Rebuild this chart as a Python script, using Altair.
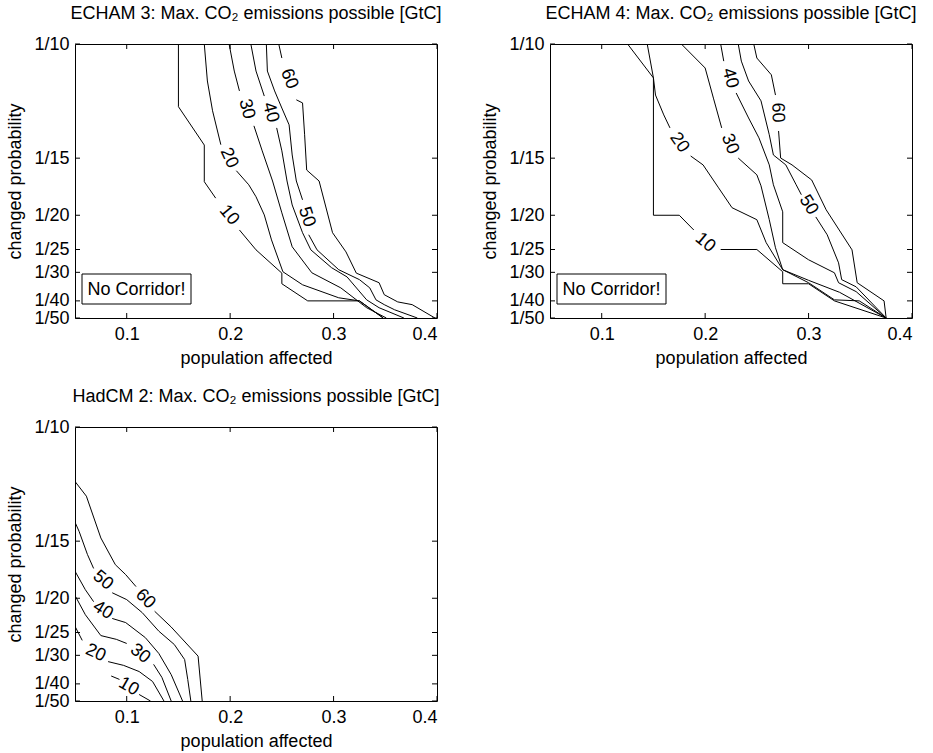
import altair as alt
import pandas as pd

FONT = "Liberation Sans"

X_TICKS = [0.1, 0.2, 0.3, 0.4]
Y_TICKS = [1/10, 1/15, 1/20, 1/25, 1/30, 1/40, 1/50]

TITLES = [
    "ECHAM 3: Max. CO\u2082 emissions possible [GtC]",
    "ECHAM 4: Max. CO\u2082 emissions possible [GtC]",
    "HadCM 2: Max. CO\u2082 emissions possible [GtC]",
]

# contour polylines: level -> list of segments (gaps are where labels sit)
ECHAM3_LINES = {
    10: [[(0.150, 0.1), (0.150, 0.0817), (0.175, 0.0705), (0.175, 0.0598), (0.186, 0.055)],
         [(0.209, 0.0457), (0.225, 0.0399), (0.250, 0.0331), (0.250, 0.030), (0.275, 0.025),
          (0.325, 0.025), (0.348, 0.02)]],
    20: [[(0.175, 0.1), (0.178, 0.0892), (0.183, 0.0805), (0.191, 0.0706)],
         [(0.206, 0.063), (0.218, 0.0589), (0.225, 0.0554), (0.233, 0.0501), (0.240, 0.0428),
          (0.251, 0.0335), (0.270, 0.0297), (0.305, 0.0259), (0.325, 0.025), (0.348, 0.02)]],
    30: [[(0.199, 0.1), (0.204, 0.0921), (0.209, 0.0863)],
         [(0.223, 0.0761), (0.231, 0.0688), (0.241, 0.060), (0.250, 0.0507), (0.260, 0.0408),
          (0.279, 0.0332), (0.307, 0.0288), (0.332, 0.023), (0.351, 0.02)]],
    40: [[(0.220, 0.1), (0.225, 0.0921), (0.233, 0.0848)],
         [(0.245, 0.0755), (0.250, 0.0688), (0.255, 0.060), (0.260, 0.053), (0.270, 0.0449),
          (0.278, 0.0399), (0.298, 0.0347), (0.313, 0.032), (0.332, 0.0253), (0.344, 0.023),
          (0.368, 0.02)]],
    50: [[(0.235, 0.1), (0.236, 0.0921), (0.243, 0.0863), (0.250, 0.0813), (0.257, 0.0764),
          (0.260, 0.0676), (0.264, 0.060), (0.270, 0.0545)],
         [(0.276, 0.0443), (0.284, 0.0399), (0.305, 0.0341), (0.325, 0.0312), (0.335, 0.0288),
          (0.341, 0.0253), (0.349, 0.0239), (0.359, 0.0224), (0.381, 0.02)]],
    60: [[(0.247, 0.1), (0.250, 0.0959)],
         [(0.264, 0.0837), (0.270, 0.0828), (0.272, 0.0735), (0.274, 0.0632), (0.286, 0.060),
          (0.299, 0.0449), (0.312, 0.0393), (0.322, 0.0331), (0.344, 0.0303), (0.349, 0.0268),
          (0.362, 0.0247), (0.376, 0.0239), (0.398, 0.02)]],
}
ECHAM3_LABELS = [("10", 0.199, 0.0500, 50), ("20", 0.199, 0.0667, 65), ("30", 0.216, 0.0810, 75),
                 ("40", 0.239, 0.0800, 75), ("50", 0.274, 0.0495, 72), ("60", 0.257, 0.0898, 68)]

ECHAM4_LINES = {
    10: [[(0.125, 0.1), (0.150, 0.0901), (0.150, 0.050), (0.175, 0.050), (0.189, 0.0457)],
         [(0.215, 0.040), (0.250, 0.040), (0.275, 0.0335), (0.275, 0.030), (0.300, 0.030),
          (0.325, 0.025), (0.375, 0.02)]],
    20: [[(0.144, 0.1), (0.150, 0.0901), (0.152, 0.0851), (0.160, 0.0793), (0.166, 0.0755)],
         [(0.186, 0.0673), (0.198, 0.0647), (0.213, 0.058), (0.226, 0.0522), (0.250, 0.0487),
          (0.259, 0.042), (0.275, 0.0341), (0.300, 0.0303), (0.325, 0.0253), (0.349, 0.025),
          (0.375, 0.02)]],
    30: [[(0.177, 0.1), (0.200, 0.093), (0.208, 0.0842), (0.216, 0.0755)],
         [(0.232, 0.0667), (0.250, 0.0618), (0.254, 0.0586), (0.262, 0.0487), (0.268, 0.0405),
          (0.275, 0.0341), (0.300, 0.031), (0.330, 0.0275), (0.375, 0.02)]],
    40: [[(0.215, 0.1), (0.218, 0.095)],
         [(0.230, 0.0857), (0.242, 0.0784), (0.252, 0.0726), (0.262, 0.0647), (0.266, 0.0589),
          (0.275, 0.051), (0.275, 0.042), (0.300, 0.037), (0.325, 0.0332), (0.329, 0.0303),
          (0.346, 0.0277), (0.375, 0.02)]],
    50: [[(0.232, 0.1), (0.235, 0.095), (0.242, 0.0892), (0.254, 0.0834), (0.262, 0.0735),
          (0.266, 0.0676), (0.278, 0.0647), (0.288, 0.0589), (0.293, 0.056)],
         [(0.307, 0.0495), (0.318, 0.0443), (0.329, 0.0361), (0.332, 0.0312), (0.346, 0.0291),
          (0.375, 0.02)]],
    60: [[(0.247, 0.1), (0.250, 0.0959), (0.264, 0.091), (0.268, 0.0851)],
         [(0.271, 0.0746), (0.273, 0.0667), (0.284, 0.0647), (0.303, 0.0603), (0.317, 0.0516),
          (0.342, 0.0399), (0.347, 0.0303), (0.373, 0.025), (0.375, 0.02)]],
}
ECHAM4_LABELS = [("10", 0.200, 0.0420, 40), ("20", 0.175, 0.0712, 55), ("30", 0.224, 0.0708, 68),
                 ("40", 0.224, 0.0900, 75), ("50", 0.300, 0.0530, 58), ("60", 0.270, 0.0800, 88)]

HADCM2_LINES = {
    10: [[(0.085, 0.0273), (0.093, 0.0263)],
         [(0.112, 0.0219), (0.123, 0.02)]],
    20: [[(0.050, 0.0418), (0.057, 0.0377)],
         [(0.082, 0.0315), (0.097, 0.0304), (0.112, 0.0286), (0.125, 0.0257), (0.136, 0.02)]],
    30: [[(0.050, 0.0508), (0.060, 0.0452), (0.075, 0.0391), (0.090, 0.038), (0.100, 0.0368)],
         [(0.126, 0.0307), (0.134, 0.0269), (0.143, 0.02)]],
    40: [[(0.050, 0.0579), (0.060, 0.0525), (0.068, 0.049)],
         [(0.086, 0.0441), (0.099, 0.0429), (0.118, 0.0385), (0.131, 0.0339), (0.143, 0.0277),
          (0.154, 0.02)]],
    50: [[(0.050, 0.0722), (0.054, 0.0695), (0.062, 0.0628), (0.068, 0.0587)],
         [(0.086, 0.0516), (0.100, 0.0496), (0.115, 0.0458), (0.131, 0.0404), (0.146, 0.0365),
          (0.156, 0.0321), (0.159, 0.0263), (0.162, 0.02)]],
    60: [[(0.050, 0.0841), (0.061, 0.0798), (0.075, 0.0676), (0.089, 0.0598), (0.099, 0.0569),
          (0.109, 0.0534)],
         [(0.127, 0.0462), (0.143, 0.0416), (0.169, 0.0331), (0.173, 0.02)]],
}
HADCM2_LABELS = [("10", 0.102, 0.0242, 30), ("20", 0.070, 0.0340, 25), ("30", 0.113, 0.0338, 38),
                 ("40", 0.077, 0.0465, 32), ("50", 0.077, 0.0552, 40), ("60", 0.118, 0.0498, 45)]

W, H = 362, 274
TICK = 5

xscale = alt.Scale(domain=[0.05, 0.4], nice=False, zero=False)
yscale = alt.Scale(domain=[0.02, 0.1], nice=False, zero=False)
xaxis = alt.Axis(values=X_TICKS, title="population affected", format=".1f",
                 labelPadding=7, titlePadding=6)
yaxis = alt.Axis(values=Y_TICKS, title="changed probability",
                 labelExpr="'1/' + format(1/datum.value, '.0f')",
                 labelPadding=6, titlePadding=9, labelOverlap=False)


def lines_frame(lines):
    rows = []
    for level, segs in lines.items():
        for si, seg in enumerate(segs):
            for i, (x, y) in enumerate(seg):
                rows.append({"level": level, "seg": f"{level}-{si}", "i": i, "x": x, "y": y})
    return pd.DataFrame(rows)


def panel(title, lines, labels, corridor):
    X = alt.X("x:Q", scale=xscale, axis=xaxis)
    Y = alt.Y("y:Q", scale=yscale, axis=yaxis)
    curves = alt.Chart(lines_frame(lines)).mark_line(
        color="black", strokeWidth=1, clip=True
    ).encode(x=X, y=Y, detail="seg:N", order="i:Q")

    lab_df = pd.DataFrame(labels, columns=["label", "x", "y", "angle"])
    texts = alt.Chart(lab_df).mark_text(
        font=FONT, fontSize=18, color="black", align="center", baseline="middle"
    ).encode(x=X, y=Y, text="label:N", angle=alt.Angle("angle:Q", scale=None))

    xt = pd.DataFrame({"x": X_TICKS})
    yt = pd.DataFrame({"y": Y_TICKS})
    tb = alt.Chart(xt).mark_rule(color="black", strokeWidth=1).encode(
        x=X, y=alt.value(H), y2=alt.value(H - TICK))
    tt = alt.Chart(xt).mark_rule(color="black", strokeWidth=1).encode(
        x=X, y=alt.value(0), y2=alt.value(TICK))
    tl = alt.Chart(yt).mark_rule(color="black", strokeWidth=1).encode(
        y=Y, x=alt.value(0), x2=alt.value(TICK))
    tr = alt.Chart(yt).mark_rule(color="black", strokeWidth=1).encode(
        y=Y, x=alt.value(W), x2=alt.value(W - TICK))

    layers = [curves, texts, tb, tt, tl, tr]
    if corridor:
        nc = pd.DataFrame({"t": ["No Corridor!"]})
        box = alt.Chart(nc).mark_rect(fill="white", stroke="black", strokeWidth=1).encode(
            x=alt.value(7), x2=alt.value(116), y=alt.value(230), y2=alt.value(260))
        txt = alt.Chart(nc).mark_text(font=FONT, fontSize=18, color="black",
                                      align="center", baseline="middle").encode(
            x=alt.value(61.5), y=alt.value(245.5), text="t:N")
        layers += [box, txt]

    return alt.layer(*layers).properties(
        width=W, height=H,
        title=alt.TitleParams(title, font=FONT, fontSize=18, fontWeight="normal",
                              color="black", anchor="middle", offset=12),
    )


p1 = panel(TITLES[0], ECHAM3_LINES, ECHAM3_LABELS, True)
p2 = panel(TITLES[1], ECHAM4_LINES, ECHAM4_LABELS, True)
p3 = panel(TITLES[2], HADCM2_LINES, HADCM2_LABELS, False)

chart = alt.vconcat(
    alt.hconcat(p1, p2, spacing=38),
    p3,
    spacing=19,
).properties(
    padding={"left": 6, "top": 4, "right": 5, "bottom": 5},
    background="white",
).configure_view(
    stroke="black", strokeWidth=1
).configure_axis(
    domain=False, ticks=False, tickSize=0, grid=False,
    labelFont=FONT, labelFontSize=18, labelColor="black",
    titleFont=FONT, titleFontSize=18, titleFontWeight="normal", titleColor="black",
)

chart.save("out.html", embed_options={"renderer": "svg", "actions": False})
